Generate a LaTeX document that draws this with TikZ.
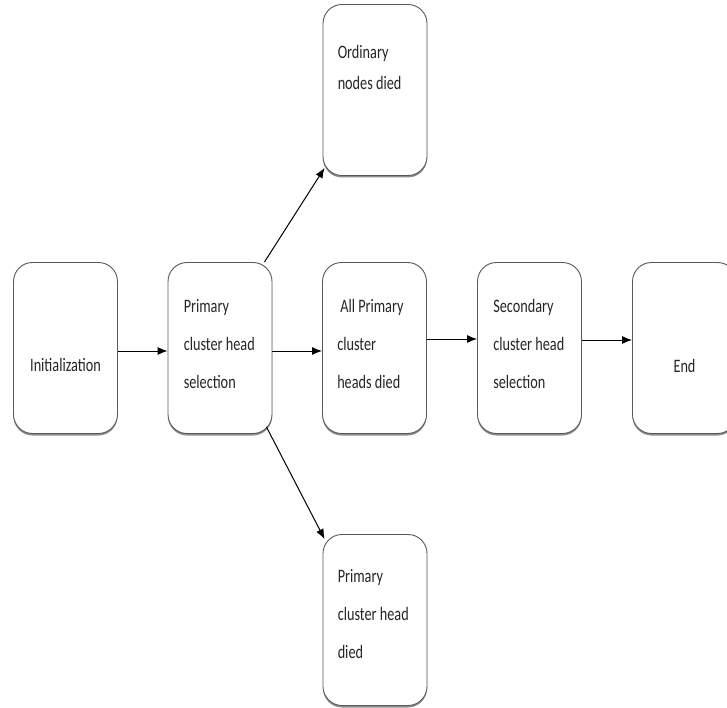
\documentclass[tikz,border=0pt]{standalone}
\usepackage{fontspec}
\newfontfamily\boxfont[FakeStretch=0.75]{Carlito}
\usetikzlibrary{positioning,shadows,arrows.meta}
\tikzset{
  stepbox/.style={draw=black!65, line width=0.9pt, fill=white, rounded corners=19pt,
    minimum width=104pt, minimum height=171pt, inner sep=0pt,
    drop shadow={shadow xshift=0pt, shadow yshift=-2pt, opacity=1, fill=black!45}},
  boxtext/.style={font=\boxfont\fontsize{19}{38}\selectfont, align=left, inner sep=0pt, text=black!85},
  flow/.style={-{Latex[length=10pt,width=8pt]}, line width=1pt}
}
\begin{document}
\begin{tikzpicture}[x=1pt, y=-1pt]
      \useasboundingbox (0,0) rectangle (727,708);
      %%%%%%%%%%%%%%%%%%%%%%%%%%%%%%%%%%%%%%%%%%%%%%%
      \node[stepbox] at (65.5,348)  (init)   {};
      \node[stepbox] at (220,348)   (pchs)   {};
      \node[stepbox] at (374.5,348) (apd)    {};
      \node[stepbox] at (529.5,348) (schs)   {};
      \node[stepbox] at (684.5,348) (finish) {};
      \node[stepbox] at (375,90)    (ord)    {};
      \node[stepbox] at (375,620)   (pchd)   {};
      %%%%%%%%%%%%%%%%%%%%%%%%%%%%%%%%%%%%%%%%%%%%%%%
      \node[boxtext, below=96pt of init.north]   (inittext)   {Initialization};
      \node[boxtext, below=97pt of finish.north] (finishtext) {End};
      \node[boxtext, below right=37pt and 16pt of pchs.north west] (pchstext) {Primary\\cluster head\\selection};
      \node[boxtext, below right=37pt and 15pt of apd.north west]  (apdtext)  {\hspace{3pt}All Primary\\cluster\\heads died};
      \node[boxtext, below right=37pt and 16pt of schs.north west] (schstext) {Secondary\\cluster head\\selection};
      \node[boxtext, below right=41pt and 15pt of ord.north west]  (ordtext)  {Ordinary\\[-7pt]nodes died};
      \node[boxtext, below right=35pt and 15pt of pchd.north west] (pchdtext) {Primary\\cluster head\\died};
      %%%%%%%%%%%%%%%%%%%%%%%%%%%%%%%%%%%%%%%%%%%%%%%
      \draw[flow] ([yshift=-3pt]init.east) -- ([yshift=-3pt]pchs.west);
      \draw[flow] ([yshift=-3pt]pchs.east) -- ([yshift=-3pt]apd.west);
      \draw[flow] ([yshift=9pt]apd.east) -- ([yshift=9pt]schs.west);
      \draw[flow] ([yshift=8pt]schs.east) -- ([yshift=8pt]finish.west);
      \draw[flow] ([xshift=-8pt]pchs.north east) -- ([shift={(2pt,8pt)}]ord.south west);
      \draw[flow] ([shift={(-6pt,7pt)}]pchs.south east) -- ([shift={(2pt,-5pt)}]pchd.north west);
\end{tikzpicture}
\end{document}
